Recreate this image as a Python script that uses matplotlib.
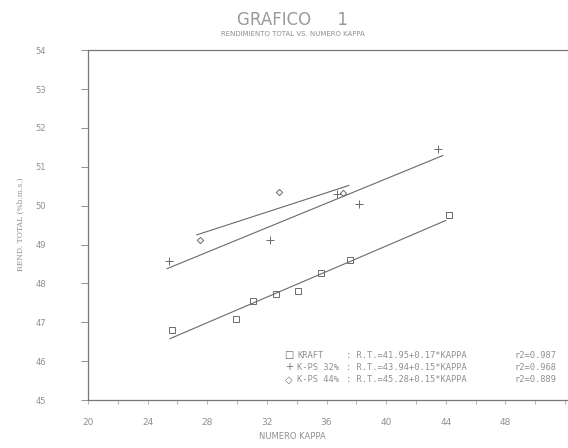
import numpy as np
import matplotlib
matplotlib.use("Agg")
import matplotlib.pyplot as plt
from matplotlib.ticker import MultipleLocator


# data
kraft_k = [25.6, 29.9, 31.1, 32.6, 34.1, 35.6, 37.6, 44.2]
kraft_v = [46.81, 47.09, 47.54, 47.74, 47.80, 48.27, 48.61, 49.77]
ps32_k = [25.4, 32.2, 36.7, 38.2, 43.5]
ps32_v = [48.57, 49.12, 50.31, 50.05, 51.46]
ps44_k = [27.5, 32.8, 37.1]
ps44_v = [49.11, 50.35, 50.33]

# regression lines (end points as drawn)
kraft_fit_k = [25.5, 44.0]
kraft_fit_v = [46.58, 49.62]
ps32_fit_k = [25.3, 43.8]
ps32_fit_v = [48.38, 51.29]
ps44_fit_k = [27.3, 37.5]
ps44_fit_v = [49.25, 50.52]

legend_rows = [
    ("\u25a1", "KRAFT", ": R.T.=41.95+0.17*KAPPA", "r2=0.987"),
    ("+", "K-PS 32%", ": R.T.=43.94+0.15*KAPPA", "r2=0.968"),
    ("\u25c7", "K-PS 44%", ": R.T.=45.28+0.15*KAPPA", "r2=0.889"),
]

xticks = [20, 24, 28, 32, 36, 40, 44, 48]
yticks = [45, 46, 47, 48, 49, 50, 51, 52, 53, 54]

ink = "#6a6a6a"
txt = "#909090"

fig = plt.figure(figsize=(5.68, 4.48), dpi=100)
ax = fig.add_axes([0.155, 0.107, 0.845, 0.781])

ax.plot(kraft_fit_k, kraft_fit_v, color=ink, lw=0.8)
ax.plot(ps32_fit_k, ps32_fit_v, color=ink, lw=0.8)
ax.plot(ps44_fit_k, ps44_fit_v, color=ink, lw=0.8)

ax.plot(kraft_k, kraft_v, ls="none", marker="s", ms=4.5, mfc="none", mec=ink, mew=0.7)
ax.plot(ps32_k, ps32_v, ls="none", marker="+", ms=6, mec=ink, mew=0.7)
ax.plot(ps44_k, ps44_v, ls="none", marker="D", ms=3.2, mfc="none", mec=ink, mew=0.7)

ax.set_xlim(20, 52.2)
ax.set_ylim(45, 54)
ax.set_xticks(xticks)
ax.set_yticks(yticks)
ax.xaxis.set_minor_locator(MultipleLocator(2))

for s in ["left", "bottom", "top"]:
    ax.spines[s].set_color("#777777")
    ax.spines[s].set_linewidth(0.9)
ax.spines["right"].set_visible(False)

ax.tick_params(axis="y", direction="out", length=5, width=0.7, color=txt,
               labelsize=6, labelcolor=txt, pad=25)
ax.tick_params(axis="x", which="both", direction="out", length=3, width=0.6,
               color="#aaaaaa", labelsize=6.5, labelcolor=txt, pad=10)

fig.text(0.515, 0.955, "GRAFICO     1", ha="center", va="center",
         fontsize=12, color="#9a9a9a")
fig.text(0.515, 0.925, "RENDIMIENTO TOTAL VS. NUMERO KAPPA", ha="center",
         va="center", fontsize=5, color=txt)
fig.text(0.036, 0.5, "REND. TOTAL (%b.m.s.)", rotation=90, ha="center",
         va="center", fontsize=5.5, color=txt, family="DejaVu Serif")
fig.text(0.515, 0.025, "NUMERO KAPPA", ha="center", va="center",
         fontsize=6, color=txt)

for i, (sym, name, eq, r2) in enumerate(legend_rows):
    y = 0.207 - i * 0.027
    fig.text(0.509, y, sym, ha="center", va="center", fontsize=7, color=ink)
    fig.text(0.523, y, name, ha="left", va="center", fontsize=6.3,
             color=txt, family="DejaVu Sans Mono")
    fig.text(0.609, y, eq, ha="left", va="center", fontsize=6.3,
             color=txt, family="DejaVu Sans Mono")
    fig.text(0.906, y, r2, ha="left", va="center", fontsize=6.3,
             color=txt, family="DejaVu Sans Mono")

fig.savefig("out.png", dpi=100, facecolor="white")
